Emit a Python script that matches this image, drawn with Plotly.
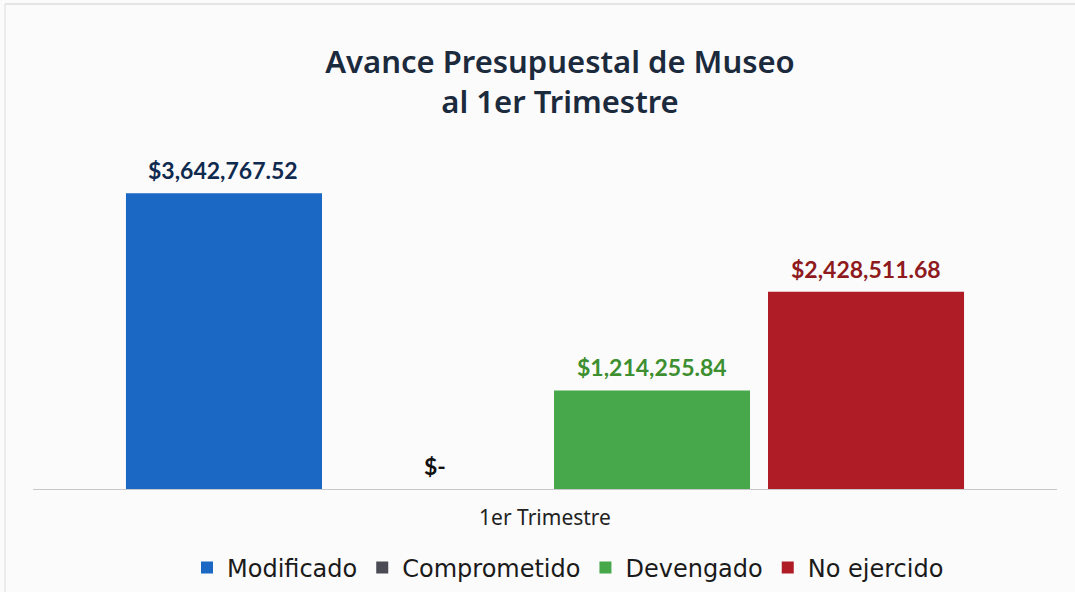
import plotly.graph_objects as go

categories = ["1er Trimestre"]
series_names = ["Modificado", "Comprometido", "Devengado", "No ejercido"]
series_values = [3642767.52, 0.0, 1214255.84, 2428511.68]
bar_colors = ["#1b67c4", "#4b4b55", "#46a84a", "#b01c26"]
label_colors = ["#0f2a4e", "#111111", "#3d8f2f", "#8e1a1e"]
label_shifts = [-322, -110, 107, 321]

def fmt(v):
    return "$-" if v == 0 else f"${v:,.2f}"

fig = go.Figure()
for name, val, col in zip(series_names, series_values, bar_colors):
    fig.add_trace(go.Bar(
        x=categories, y=[val], name=name,
        marker=dict(color=col, line=dict(width=0)),
        hoverinfo="skip",
    ))

annotations = []
for val, lc, sh in zip(series_values, label_colors, label_shifts):
    annotations.append(dict(
        x=categories[0], y=val, xref="x", yref="y",
        text=fmt(val), showarrow=False, xshift=sh, yshift=23,
        yanchor="middle", xanchor="center",
        font=dict(family="Lato", size=23, color=lc, weight="bold"),
    ))

fig.update_layout(
    width=1075, height=592,
    margin=dict(l=33, r=18, t=148, b=103, autoexpand=False),
    paper_bgcolor="#fbfbfb", plot_bgcolor="#fbfbfb",
    barmode="group", bargap=0.164, bargroupgap=0.084,
    title=dict(
        text="Avance Presupuestal de Museo<br>al 1er Trimestre",
        x=560 / 1075, xref="container", xanchor="center",
        y=1 - 73 / 592, yref="container", yanchor="middle",
        font=dict(family="Noto Sans", size=31, color="#1b2a3c", weight=600),
    ),
    xaxis=dict(
        showline=True, linecolor="#c8c8cc", linewidth=1,
        showgrid=False, zeroline=False, ticks="",
        ticklabelstandoff=10,
        tickfont=dict(family="Noto Sans", size=21, color="#222222"),
    ),
    yaxis=dict(range=[0, 4.2e6], visible=False, showgrid=False, zeroline=False),
    legend=dict(
        orientation="h", x=(568 - 33) / 1024, xanchor="center", y=-79 / 341, yanchor="middle",
        font=dict(family="DejaVu Sans", size=24, color="#1a1a1a"),
        itemwidth=30, traceorder="normal",
    ),
    annotations=annotations,
    showlegend=True,
    shapes=[
        dict(type="line", xref="paper", yref="paper", x0=(5 - 33) / 1024, x1=(1075 - 33) / 1024,
             y0=(592 - 103 - 4) / 341, y1=(592 - 103 - 4) / 341,
             line=dict(color="#cfcfd4", width=1)),
        dict(type="line", xref="paper", yref="paper", x0=(5 - 33) / 1024, x1=(5 - 33) / 1024,
             y0=(592 - 103 - 4) / 341, y1=(592 - 103 - 592) / 341,
             line=dict(color="#dcdce0", width=1)),
    ],
)

fig.write_html("out.html", config={"displayModeBar": False},
               post_script="document.body.style.margin='0px';")
